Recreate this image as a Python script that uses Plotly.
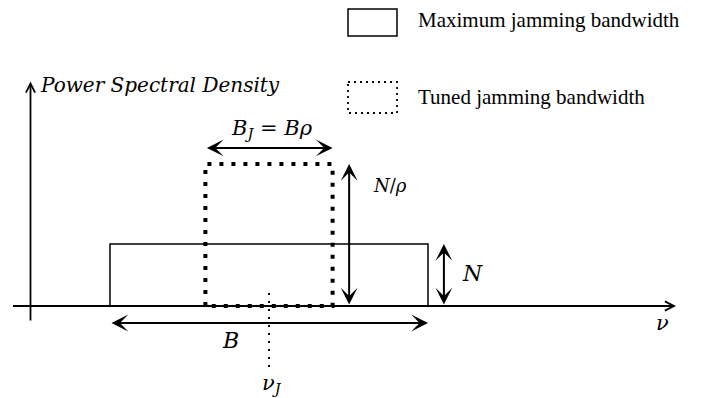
import plotly.graph_objects as go

# diagram quantities (frequency in units of B, PSD in units of N)
max_band_nu = [0.0, 1.0]        # maximum jamming bandwidth B
max_band_psd = 1.0              # N
tuned_band_nu = [0.30, 0.70]    # B_J = B*rho around nu_J
tuned_band_psd = 2.29           # N/rho
nu_J = 0.50

nu_axis = [-0.31, 1.78]
psd_axis = [-0.26, 3.62]
axis_nu0 = -0.25

legend_labels = ["Maximum jamming bandwidth", "Tuned jamming bandwidth"]
legend_dash = ["solid", "2px,4px"]

# the page puts the figure 8 px in from the top-left corner
OFF = 8
W, H = 710 - OFF, 398 - OFF
# pixel mapping (page px): nu=0 at x=110, 318 px per unit; psd=0 at y=306, 62 px per unit
x0, y0 = 110 - OFF, 306 - OFF
x_range = [-x0 / 318, (W - x0) / 318]
y_range = [(y0 - H) / 62, y0 / 62]

MATH = "DejaVu Serif"

fig = go.Figure()

def rect(nu, h, **line):
    fig.add_trace(go.Scatter(
        x=[nu[0], nu[0], nu[1], nu[1], nu[0]], y=[0, h, h, 0, 0],
        mode="lines", line=line, hoverinfo="skip", showlegend=False))

rect(max_band_nu, max_band_psd, color="black", width=1.5)
rect(tuned_band_nu, tuned_band_psd, color="black", width=4, dash="4px,8px")

# nu_J marker
fig.add_trace(go.Scatter(x=[nu_J, nu_J], y=[0.21, -1.0], mode="lines",
                         line=dict(color="black", width=2, dash="2px,6px"),
                         hoverinfo="skip", showlegend=False))

ann = []

def arrow(xa, ya, xb, yb, head=3, size=1.4, width=2, both=True):
    ann.append(dict(x=xb, y=yb, ax=xa, ay=ya, xref="x", yref="y", axref="x", ayref="y",
                    text="", showarrow=True, arrowhead=head, startarrowhead=head,
                    arrowsize=size, startarrowsize=size, arrowwidth=width,
                    arrowside="end+start" if both else "end", arrowcolor="black"))

# axes
arrow(nu_axis[0], 0, nu_axis[1], 0, head=5, size=1.0, width=1.8, both=False)
arrow(axis_nu0, psd_axis[0], axis_nu0, psd_axis[1], head=5, size=1.0, width=1.8, both=False)

# dimension arrows
arrow(max_band_nu[0], -0.274, max_band_nu[1], -0.274)
arrow(tuned_band_nu[0], 2.55, tuned_band_nu[1], 2.55)
arrow(0.752, 0, 0.752, tuned_band_psd)
arrow(1.05, 0, 1.05, max_band_psd)

def label(x, y, text, size=20, xanchor="center"):
    ann.append(dict(x=x, y=y, xref="x", yref="y", text=text, showarrow=False,
                    xanchor=xanchor, yanchor="middle",
                    font=dict(family=MATH, size=size, color="black")))

label(0.51, 2.85, "<i>B</i><sub><i>J</i></sub> = <i>Bρ</i>", 21)
label(0.88, 1.95, "<i>N</i>/<i>ρ</i>", 18)
label(1.14, 0.53, "<i>N</i>", 22)
label(0.38, -0.55, "<i>B</i>", 22)
label(0.51, -1.25, "<i>ν</i><sub><i>J</i></sub>", 21)
label(1.736, -0.27, "<i>ν</i>", 21)
label(-0.225, 3.57, "<i>Power Spectral Density</i>", 20, xanchor="left")

shapes = []
for i, (lab, dash) in enumerate(zip(legend_labels, legend_dash)):
    top = 5 + i * 77 - OFF
    shapes.append(dict(type="rect", xref="paper", yref="paper",
                       x0=(348 - OFF) / W, x1=(397 - OFF) / W, y0=1 - max(top, 1) / H, y1=1 - (top + 31) / H,
                       line=dict(color="black", width=1.5 if dash == "solid" else 1.8, dash=dash)))
    ann.append(dict(x=(416 - OFF) / W, y=1 - (top + 15) / H, xref="paper", yref="paper", text=lab,
                    showarrow=False, xanchor="left", yanchor="middle",
                    font=dict(family="Liberation Serif", size=21, color="black")))

fig.update_layout(
    width=W, height=H, margin=dict(l=0, r=0, t=0, b=0),
    plot_bgcolor="white", paper_bgcolor="white",
    xaxis=dict(range=x_range, visible=False, fixedrange=True),
    yaxis=dict(range=y_range, visible=False, fixedrange=True),
    annotations=ann, shapes=shapes, showlegend=False,
)

fig.write_html("out.html")
